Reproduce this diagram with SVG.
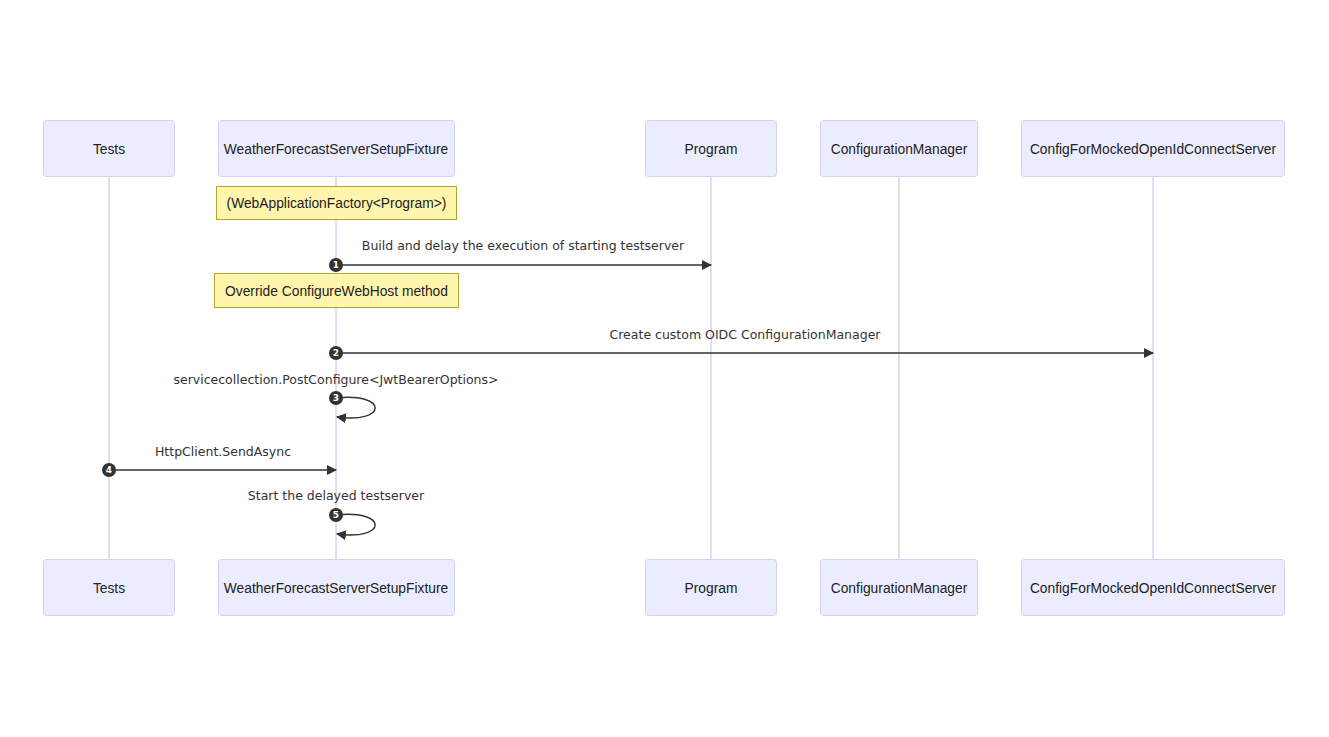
<svg xmlns="http://www.w3.org/2000/svg" width="1329" height="737" viewBox="0 0 1329 737">
<style>
.actor{fill:#ECECFF;stroke:#d6d0f5;stroke-width:1}
.atext{font-family:"Liberation Sans",Arial,sans-serif;font-size:13.8px;fill:#222;text-anchor:middle;dominant-baseline:central}
.life{stroke:#d8d0f7;stroke-width:1.5}
.note{fill:#fff5ad;stroke:#aaaa33;stroke-width:1}
.ntext{font-family:"Liberation Sans",Arial,sans-serif;font-size:13.8px;fill:#222;text-anchor:middle;dominant-baseline:central}
.msg{stroke:#333;stroke-width:1.5;fill:none}
.mtext{font-family:"DejaVu Sans",Verdana,sans-serif;font-size:12.5px;fill:#333;text-anchor:middle}
.num{fill:#333}
.ntxt{font-family:"DejaVu Sans",Verdana,sans-serif;font-size:9px;font-weight:bold;fill:#fff;text-anchor:middle;dominant-baseline:central}
</style>
<defs>
<marker id="arr" viewBox="0 0 10 10" refX="9" refY="5" markerWidth="10" markerHeight="10" markerUnits="userSpaceOnUse" orient="auto">
<path d="M0,0 L10,5 L0,10 z" fill="#333"/>
</marker>
</defs>
<rect width="1329" height="737" fill="#fff"/>
<g id="lifelines">
<line class="life" x1="109" y1="177" x2="109" y2="559"/>
<line class="life" x1="336" y1="177" x2="336" y2="559"/>
<line class="life" x1="711" y1="177" x2="711" y2="559"/>
<line class="life" x1="899" y1="177" x2="899" y2="559"/>
<line class="life" x1="1153" y1="177" x2="1153" y2="559"/>
</g>
<g id="actor-tests-top"><rect class="actor" x="43.5" y="120.5" width="131" height="56" rx="3"/><text class="atext" x="109" y="149">Tests</text></g>
<g id="actor-fixture-top"><rect class="actor" x="218.5" y="120.5" width="236" height="56" rx="3"/><text class="atext" x="336" y="149">WeatherForecastServerSetupFixture</text></g>
<g id="actor-program-top"><rect class="actor" x="645.5" y="120.5" width="131" height="56" rx="3"/><text class="atext" x="711" y="149">Program</text></g>
<g id="actor-cm-top"><rect class="actor" x="820.5" y="120.5" width="157" height="56" rx="3"/><text class="atext" x="899" y="149">ConfigurationManager</text></g>
<g id="actor-cfm-top"><rect class="actor" x="1021.5" y="120.5" width="263" height="56" rx="3"/><text class="atext" x="1153" y="149">ConfigForMockedOpenIdConnectServer</text></g>
<g id="actor-tests-bottom"><rect class="actor" x="43.5" y="559.5" width="131" height="56" rx="3"/><text class="atext" x="109" y="588">Tests</text></g>
<g id="actor-fixture-bottom"><rect class="actor" x="218.5" y="559.5" width="236" height="56" rx="3"/><text class="atext" x="336" y="588">WeatherForecastServerSetupFixture</text></g>
<g id="actor-program-bottom"><rect class="actor" x="645.5" y="559.5" width="131" height="56" rx="3"/><text class="atext" x="711" y="588">Program</text></g>
<g id="actor-cm-bottom"><rect class="actor" x="820.5" y="559.5" width="157" height="56" rx="3"/><text class="atext" x="899" y="588">ConfigurationManager</text></g>
<g id="actor-cfm-bottom"><rect class="actor" x="1021.5" y="559.5" width="263" height="56" rx="3"/><text class="atext" x="1153" y="588">ConfigForMockedOpenIdConnectServer</text></g>
<g id="note1"><rect class="note" x="216.5" y="186.5" width="240" height="33"/><text class="ntext" x="336.5" y="203">(WebApplicationFactory&lt;Program&gt;)</text></g>
<g id="note2"><rect class="note" x="214.5" y="273.5" width="244" height="34"/><text class="ntext" x="336.5" y="291">Override ConfigureWebHost method</text></g>
<g id="connectors">
<text class="mtext" x="523" y="250">Build and delay the execution of starting testserver</text>
<line class="msg" x1="336" y1="265" x2="711" y2="265" marker-end="url(#arr)"/>
<text class="mtext" x="745" y="339">Create custom OIDC ConfigurationManager</text>
<line class="msg" x1="336" y1="353" x2="1153" y2="353" marker-end="url(#arr)"/>
<text class="mtext" x="336" y="384">servicecollection.PostConfigure&lt;JwtBearerOptions&gt;</text>
<path class="msg" d="M336,398 C388,392 388,424 337,417" marker-end="url(#arr)"/>
<text class="mtext" x="223" y="456">HttpClient.SendAsync</text>
<line class="msg" x1="109" y1="470" x2="336" y2="470" marker-end="url(#arr)"/>
<text class="mtext" x="336" y="500">Start the delayed testserver</text>
<path class="msg" d="M336,515 C388,509 388,541 337,534" marker-end="url(#arr)"/>
<circle class="num" cx="336" cy="265" r="7"/><text class="ntxt" x="336" y="265">1</text>
<circle class="num" cx="336" cy="353" r="7"/><text class="ntxt" x="336" y="353">2</text>
<circle class="num" cx="336" cy="398" r="7"/><text class="ntxt" x="336" y="398">3</text>
<circle class="num" cx="109" cy="470" r="7"/><text class="ntxt" x="109" y="470">4</text>
<circle class="num" cx="336" cy="515" r="7"/><text class="ntxt" x="336" y="515">5</text>
</g>
</svg>
